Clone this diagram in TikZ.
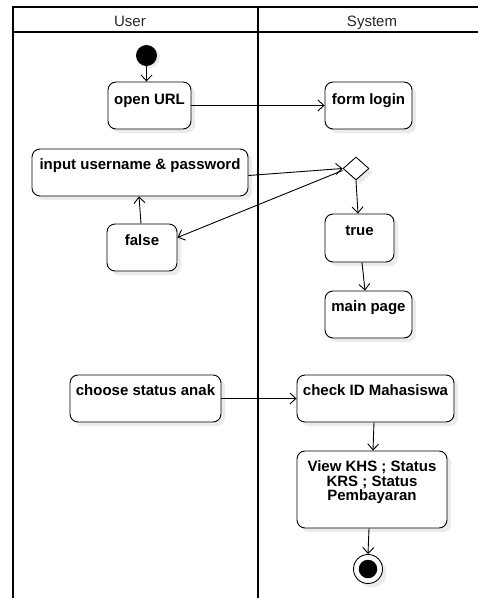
\documentclass[tikz,border=0pt]{standalone}
\usepackage{fontspec}
\setmainfont{Liberation Sans}
\usetikzlibrary{arrows.meta,shapes.geometric,shadows}
\begin{document}
\begin{tikzpicture}[x=1pt,y=-1pt,
  lane/.style={line width=2pt,black},
  actbox/.style={draw=black,line width=0.9pt,rounded corners=8pt,fill=white,
    drop shadow={shadow xshift=4pt,shadow yshift=-4pt,fill=black!8,opacity=1},
    inner sep=0pt},
  btext/.style={font=\bfseries\fontsize{15}{14.5}\selectfont,anchor=base,inner sep=0pt},
  htext/.style={font=\fontsize{15}{17}\selectfont,anchor=base,inner sep=0pt,text=black!85},
  flow/.style={draw=black,line width=0.9pt,-{Straight Barb[length=6pt,width=11pt,line width=0.9pt]}},
]
\useasboundingbox (0,0) rectangle (478,598);
% swimlanes
\draw[lane] (13,7) -- (480,7);
\draw[lane] (13,32) -- (480,32);
\draw[lane] (13,6) -- (13,600);
\draw[lane] (258,6) -- (258,600);
\node[htext] (hUser) at (130,26) {User};
\node[htext] (hSys) at (372,26) {System};

% start
\node[circle,fill=black,minimum size=21pt,inner sep=0pt,
  drop shadow={shadow xshift=3pt,shadow yshift=-2pt,fill=black!8,opacity=1}] (start) at (146.5,55.5) {};

% boxes
\node[actbox,minimum width=83pt,minimum height=47pt] (open) at (149.5,105.5) {};
\node[btext] (openT) at (149.5,104) {open URL};
\node[actbox,minimum width=87pt,minimum height=47pt] (form) at (368.5,105.5) {};
\node[btext] (formT) at (368.5,104) {form login};
\node[actbox,minimum width=216pt,minimum height=47pt] (input) at (140,172.5) {};
\node[btext] (inputT) at (140,169.5) {input username \& password};
\node[actbox,minimum width=70pt,minimum height=47pt] (false) at (142,247.5) {};
\node[btext] (falseT) at (142,245.5) {false};
\node[diamond,draw=black,line width=0.9pt,fill=white,minimum width=26pt,minimum height=23pt,inner sep=0pt,
  drop shadow={shadow xshift=4pt,shadow yshift=-4pt,fill=black!8,opacity=1}] (dia) at (356,168.5) {};
\node[actbox,minimum width=69pt,minimum height=48pt] (true) at (359.5,238) {};
\node[btext] (trueT) at (359.5,235) {true};
\node[actbox,minimum width=87pt,minimum height=47pt] (main) at (368.5,314.5) {};
\node[btext] (mainT) at (368.5,311) {main page};
\node[actbox,minimum width=151pt,minimum height=47pt] (choose) at (145.5,398.5) {};
\node[btext] (chooseT) at (145.5,395.5) {choose status anak};
\node[actbox,minimum width=157pt,minimum height=47pt] (check) at (375.5,398.5) {};
\node[btext] (checkT) at (375.5,395.5) {check ID Mahasiswa};
\node[actbox,minimum width=150pt,minimum height=77pt] (view) at (372,489.5) {};
\node[btext,align=center,anchor=north] (viewT) at (372,460.5) {View KHS ; Status\\KRS ; Status\\Pembayaran};

% end
\node[circle,draw=black,line width=0.9pt,fill=white,minimum size=29pt,inner sep=0pt,
  drop shadow={shadow xshift=4pt,shadow yshift=-4pt,fill=black!8,opacity=1}] (endc) at (368,569) {};
\node[circle,fill=black,minimum size=18.5pt,inner sep=0pt] (endi) at (endc) {};

% flows
\draw[flow] (start.south) -- (open.north -| start.south);
\draw[flow] (open.east) -- (form.west);
\draw[flow] ([yshift=-3pt]input.east) -- (dia.west);
\draw[flow] ([yshift=-2pt]dia.west) -- ([yshift=10pt]false.east);
\draw[flow] ([xshift=-1pt]false.north) -- ([xshift=-1pt]input.south |- input.south);
\draw[flow] (dia.south) -- ([xshift=-1.5pt]true.north);
\draw[flow] ([xshift=2.5pt]true.south) -- ([xshift=-3.5pt]main.north);
\draw[flow] (choose.east) -- (check.west);
\draw[flow] ([xshift=-1.5pt]check.south) -- ([xshift=1pt]view.north);
\draw[flow] ([xshift=-3pt]view.south) -- (endc.north);
\end{tikzpicture}
\end{document}
